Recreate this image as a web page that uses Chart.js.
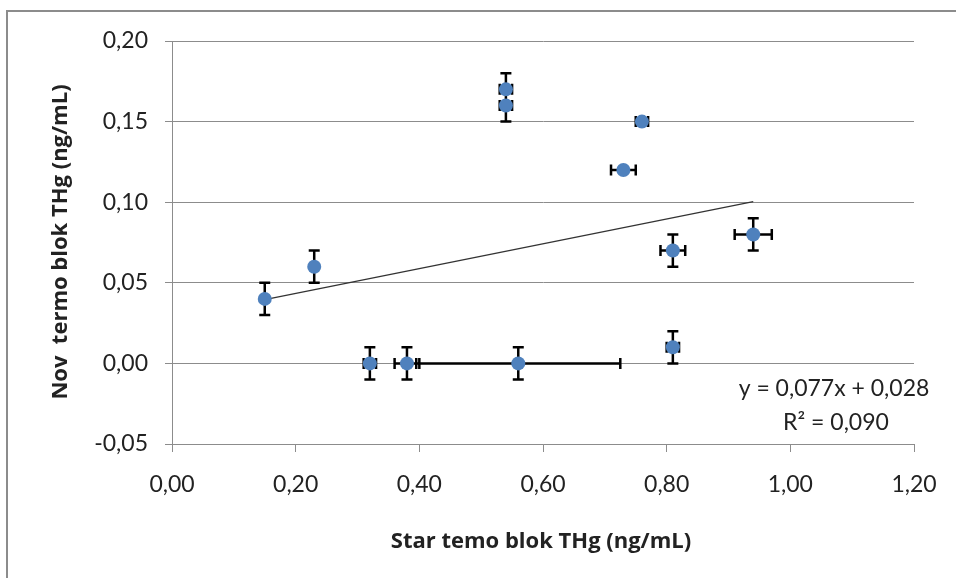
<!DOCTYPE html>
<html>
<head>
<meta charset="utf-8">
<script src="https://cdn.jsdelivr.net/npm/chart.js@4"></script>
<style>
  html, body { margin: 0; padding: 0; background: #fff; overflow: hidden; }
  #frame { position: absolute; left: 6px; top: 10px; width: 1000px; height: 1000px; border: 2px solid #8c8c8c; }
  #wrap { position: absolute; left: 0; top: 0; width: 956px; height: 578px; }
</style>
</head>
<body>
<div id="frame"></div>
<div id="wrap"><canvas id="chart" width="956" height="578"></canvas></div>
<script>
// measurements: old thermo block (x) vs new thermo block (y), ng/mL
const xValues = [0.15, 0.23, 0.32, 0.38, 0.56, 0.54, 0.54, 0.76, 0.73, 0.81, 0.94, 0.81];
const yValues = [0.04, 0.06, 0.00, 0.00, 0.00, 0.17, 0.16, 0.15, 0.12, 0.07, 0.08, 0.01];
const xErrors = [0, 0, 0.01, 0.02, 0.165, 0.01, 0.01, 0.01, 0.02, 0.02, 0.03, 0.01];
const yErrors = [0.01, 0.01, 0.01, 0.01, 0.01, 0.01, 0.01, 0, 0, 0.01, 0.01, 0.01];

// linear trend line end points, as drawn
const trendX = [0.15, 0.94];
const trendY = [0.0396, 0.1004];
const trendLabel = ['y = 0,077x + 0,028', 'R² = 0,090'];

const xTitle = 'Star temo blok THg (ng/mL)';
const yTitle = 'Nov  termo blok THg (ng/mL)';

const FONT = 'Lato, "Open Sans", sans-serif';
const TITLE_FONT = '"Open Sans", Lato, sans-serif';
const GRID = '#8c8c8c';

const fmt = (v) => v.toFixed(2).replace('.', ',');

const points = xValues.map((x, i) => ({ x: x, y: yValues[i] }));
const trend = trendX.map((x, i) => ({ x: x, y: trendY[i] }));

const errorBars = {
    id: 'errorBars',
    beforeDatasetsDraw(chart) {
        const { ctx, scales: { x, y } } = chart;
        const cap = 5.5;
        ctx.save();
        ctx.strokeStyle = '#000';
        ctx.lineWidth = 2.5;
        ctx.beginPath();
        points.forEach((p, i) => {
            const px = x.getPixelForValue(p.x);
            const py = y.getPixelForValue(p.y);
            if (yErrors[i] > 0) {
                const top = y.getPixelForValue(p.y + yErrors[i]);
                const bot = y.getPixelForValue(p.y - yErrors[i]);
                ctx.moveTo(px, top); ctx.lineTo(px, bot);
                ctx.moveTo(px - cap, top); ctx.lineTo(px + cap, top);
                ctx.moveTo(px - cap, bot); ctx.lineTo(px + cap, bot);
            }
            if (xErrors[i] > 0) {
                const l = x.getPixelForValue(p.x - xErrors[i]);
                const r = x.getPixelForValue(p.x + xErrors[i]);
                ctx.moveTo(l, py); ctx.lineTo(r, py);
                ctx.moveTo(l, py - cap); ctx.lineTo(l, py + cap);
                ctx.moveTo(r, py - cap); ctx.lineTo(r, py + cap);
            }
        });
        ctx.stroke();
        ctx.restore();
    }
};

const labels = {
    id: 'labels',
    afterDraw(chart) {
        const ctx = chart.ctx;
        ctx.save();
        ctx.fillStyle = '#222';
        ctx.font = 'bold 22px ' + TITLE_FONT;
        ctx.textAlign = 'center';
        ctx.textBaseline = 'alphabetic';
        ctx.fillText(xTitle, 541, 548);
        ctx.translate(67, 242);
        ctx.rotate(-Math.PI / 2);
        ctx.fillText(yTitle, 0, 0);
        ctx.restore();

        ctx.save();
        ctx.fillStyle = '#222';
        ctx.font = '23px ' + FONT;
        ctx.textAlign = 'center';
        ctx.textBaseline = 'alphabetic';
        ctx.fillText(trendLabel[0], 834, 396);
        ctx.fillText(trendLabel[1], 836, 430);
        ctx.restore();
    }
};

new Chart(document.getElementById('chart'), {
    type: 'scatter',
    data: {
        datasets: [{
            label: 'Nov termo blok',
            data: points,
            backgroundColor: '#4f81bd',
            borderWidth: 0,
            pointRadius: 7,
            pointHoverRadius: 7
        }, {
            type: 'line',
            label: 'Linear',
            data: trend,
            borderColor: '#333',
            borderWidth: 1.3,
            pointRadius: 0,
            fill: false
        }]
    },
    options: {
        responsive: false,
        animation: false,
        events: [],
        layout: { padding: { left: 0, top: 41, right: 42, bottom: 0 } },
        plugins: { legend: { display: false }, tooltip: { enabled: false } },
        scales: {
            x: {
                type: 'linear',
                min: 0,
                max: 1.2,
                afterFit(scale) { scale.height = 134; },
                ticks: {
                    stepSize: 0.2,
                    padding: 19,
                    color: '#222',
                    font: { family: FONT, size: 23 },
                    callback: (v) => fmt(v)
                },
                grid: { drawOnChartArea: false, drawTicks: true, tickLength: 8, color: GRID },
                border: { display: true, color: GRID, width: 1 }
            },
            y: {
                type: 'linear',
                min: -0.05,
                max: 0.2,
                afterFit(scale) { scale.width = 172; },
                ticks: {
                    stepSize: 0.05,
                    padding: 17,
                    color: '#222',
                    font: { family: FONT, size: 23 },
                    callback: (v) => fmt(v)
                },
                grid: { drawTicks: true, tickLength: 7, color: GRID },
                border: { display: true, color: GRID, width: 1 }
            }
        }
    },
    plugins: [errorBars, labels]
});
</script>
</body>
</html>
